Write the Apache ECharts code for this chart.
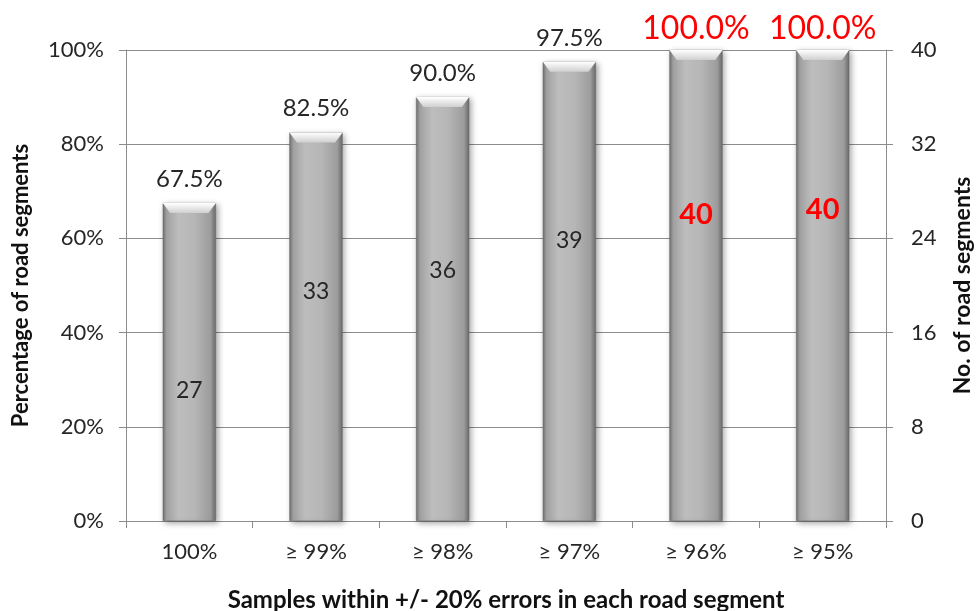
<!DOCTYPE html>
<html>
<head>
<meta charset="utf-8">
<script src="https://cdn.jsdelivr.net/npm/echarts@6/dist/echarts.min.js"></script>
<style>
  html, body { margin: 0; padding: 0; background: #fff; }
  #chart { width: 976px; height: 611px; }
</style>
</head>
<body>
<div id="chart"></div>
<script>
// Share of road segments meeting each accuracy threshold
const categories = ['100%', '≥ 99%', '≥ 98%', '≥ 97%', '≥ 96%', '≥ 95%'];
const percentValues = [67.5, 82.5, 90.0, 97.5, 100.0, 100.0];
const segmentCounts = [27, 33, 36, 39, 40, 40];
const percentTicks = [0, 20, 40, 60, 80, 100];
const countTicks = [0, 8, 16, 24, 32, 40];

const FONT = 'Lato, "Open Sans", sans-serif';
const TEXT = '#262626';
const RED = '#ff0000';
const GRID_LINE = '#8c8c8c';

// vertical placement of the count label inside each bar (fraction of bar height from its top)
const countLabelSpots = ['59%', '41%', '41%', '39%', '35%', '34%'];

const barGradient = new echarts.graphic.LinearGradient(0, 0, 1, 0, [
  { offset: 0.00, color: '#6e6e6e' },
  { offset: 0.07, color: '#a2a2a2' },
  { offset: 0.30, color: '#bdbdbd' },
  { offset: 0.60, color: '#b6b6b6' },
  { offset: 0.90, color: '#9c9c9c' },
  { offset: 1.00, color: '#6a6a6a' }
]);

const bevelGradient = new echarts.graphic.LinearGradient(0, 0, 0, 1, [
  { offset: 0, color: '#ffffff' },
  { offset: 1, color: '#cfcfcf' }
]);

const chart = echarts.init(document.getElementById('chart'), null, { renderer: 'canvas' });

chart.setOption({
  animation: false,
  backgroundColor: '#ffffff',
  textStyle: { fontFamily: FONT },
  grid: { left: 126, right: 90, top: 50, bottom: 90, containLabel: false, outerBoundsMode: 'none' },
  xAxis: {
    type: 'category',
    data: categories,
    name: 'Samples within +/- 20% errors in each road segment',
    nameLocation: 'middle',
    nameGap: 67,
    nameTextStyle: { fontFamily: FONT, fontSize: 24, fontWeight: 'bold', color: '#111' },
    axisLine: { show: true, lineStyle: { color: GRID_LINE, width: 1 } },
    axisTick: { show: true, alignWithLabel: false, length: 7, lineStyle: { color: GRID_LINE } },
    axisLabel: { fontFamily: FONT, fontSize: 22, color: TEXT, margin: 20 }
  },
  yAxis: [
    {
      type: 'value',
      min: 0, max: 100, interval: 20,
      name: 'Percentage of road segments',
      nameLocation: 'middle',
      nameRotate: 90,
      nameGap: 94,
      nameTextStyle: { fontFamily: FONT, fontSize: 22, fontWeight: 'bold', color: '#111' },
      axisLine: { show: true, lineStyle: { color: GRID_LINE } },
      axisTick: { show: true, length: 7, lineStyle: { color: GRID_LINE } },
      splitLine: { show: true, lineStyle: { color: GRID_LINE, width: 1 } },
      axisLabel: {
        fontFamily: FONT, fontSize: 22, color: TEXT, margin: 22,
        formatter: v => percentTicks.includes(v) ? v + '%' : ''
      }
    },
    {
      type: 'value',
      min: 0, max: 40, interval: 8,
      position: 'right',
      name: 'No. of road segments',
      nameLocation: 'middle',
      nameRotate: 90,
      nameGap: 65,
      nameTextStyle: { fontFamily: FONT, fontSize: 23, fontWeight: 'bold', color: '#111' },
      axisLine: { show: true, lineStyle: { color: GRID_LINE } },
      axisTick: { show: true, length: 7, lineStyle: { color: GRID_LINE } },
      splitLine: { show: false },
      axisLabel: {
        fontFamily: FONT, fontSize: 22, color: TEXT, margin: 25,
        formatter: v => countTicks.includes(v) ? String(v) : ''
      }
    }
  ],
  series: [
    {
      name: 'Percentage',
      type: 'bar',
      yAxisIndex: 0,
      barWidth: '42%',
      z: 2,
      data: percentValues.map(v => ({
        value: v,
        label: v >= 100
          ? { color: RED, fontSize: 32, distance: 5 }
          : { color: TEXT, fontSize: 24, distance: 12 }
      })),
      itemStyle: {
        color: barGradient,
        borderColor: '#666666',
        borderWidth: 0.5,
        shadowBlur: 6,
        shadowColor: 'rgba(0,0,0,0.35)',
        shadowOffsetX: 2,
        shadowOffsetY: 2
      },
      label: {
        show: true,
        position: 'top',
        fontFamily: FONT,
        formatter: p => p.value.toFixed(1) + '%'
      }
    },
    {
      name: 'Top bevel',
      type: 'pictorialBar',
      yAxisIndex: 0,
      barCategoryGap: '58%',
      symbol: 'path://M0,0 L100,0 L86,10 L14,10 Z',
      symbolKeepAspect: false,
      symbolSize: ['100%', 10],
      symbolPosition: 'end',
      z: 3,
      silent: true,
      itemStyle: { color: bevelGradient },
      data: percentValues
    },
    {
      name: 'Road segments',
      type: 'bar',
      yAxisIndex: 1,
      barWidth: '42%',
      barGap: '-100%',
      z: 4,
      silent: true,
      itemStyle: { color: 'rgba(0,0,0,0)' },
      data: segmentCounts.map((v, i) => ({
        value: v,
        label: {
          position: ['50%', countLabelSpots[i]],
          color: v >= 40 ? RED : TEXT,
          fontSize: v >= 40 ? 29 : 23,
          fontWeight: v >= 40 ? 'bold' : 'normal'
        }
      })),
      label: {
        show: true,
        fontFamily: FONT,
        align: 'center',
        verticalAlign: 'middle',
        formatter: p => String(p.value)
      }
    }
  ]
});
</script>
</body>
</html>
